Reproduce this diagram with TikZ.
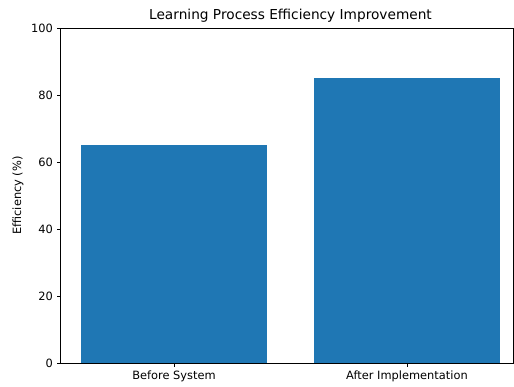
\documentclass[tikz,border=0pt]{standalone}
\usepackage{fontspec}
\setmainfont{DejaVu Sans}
\definecolor{mplblue}{HTML}{1F77B4}
\begin{document}
\begin{tikzpicture}[x=1pt,y=-1pt,
  bar/.style={fill=mplblue,draw=none},
  spine/.style={draw=black,line width=0.8pt},
  tick/.style={line width=0.8pt},
  ticklabel/.style={font=\fontsize{11.4}{13}\selectfont,inner sep=0pt},
  ttl/.style={font=\fontsize{13.7}{16}\selectfont,inner sep=0pt}]
\useasboundingbox[fill=white] (0,0) rectangle (514,387);
% bars
\path[bar] (81,363) rectangle (267,145.25);
\path[bar] (314,363) rectangle (500,78.25);
% spines
\draw[spine] (60,28) rectangle (513,363);
% y ticks
\foreach \v in {0,20,40,60,80,100}{
  \pgfmathsetmacro{\yy}{363-3.35*\v}
  \draw[tick] (60,\yy) -- (56.5,\yy);
  \node[ticklabel,anchor=east] (y\v) at (53,\yy) {\v};
}
% x ticks
\draw[tick] (174,363) -- (174,366.5);
\draw[tick] (407,363) -- (407,366.5);
\node[ticklabel,anchor=north] (xa) at (174,371) {Before System};
\node[ticklabel,anchor=north] (xb) at (407,371) {After Implementation};
% labels
\node[ticklabel,rotate=90] (ylab) at (18,195.5) {Efficiency (\%)};
\node[ttl] (title) at (290.5,16) {Learning Process Efficiency Improvement};
\end{tikzpicture}
\end{document}
